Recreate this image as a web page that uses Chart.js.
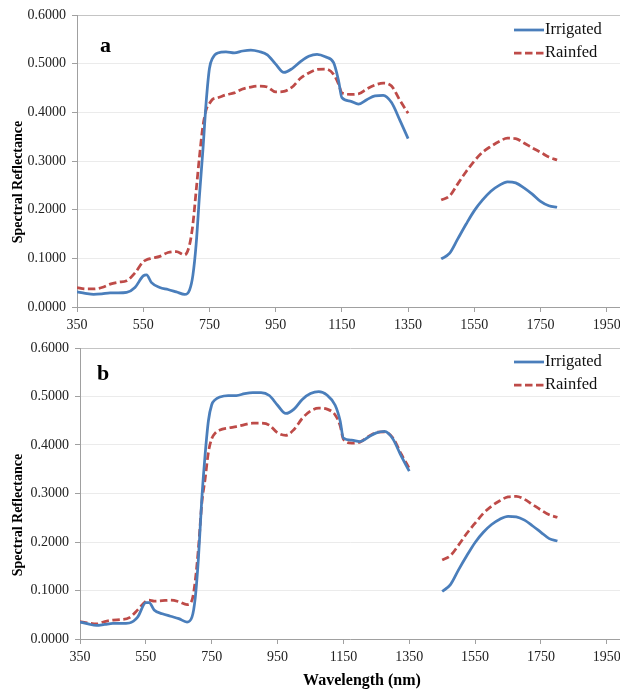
<!DOCTYPE html>
<html>
<head>
<meta charset="utf-8">
<script src="https://cdn.jsdelivr.net/npm/chart.js@4.4.1/dist/chart.umd.min.js"></script>
<style>
html,body{margin:0;padding:0;background:#fff;}
canvas{display:block;}
</style>
</head>
<body>
<canvas id="ca" width="620" height="340"></canvas>
<canvas id="cb" width="620" height="351"></canvas>
<script>
// ---- Data ----
const wavelengths = [350,375,400,425,450,475,500,525,550,560,575,600,625,650,675,690,700,710,720,730,740,750,760,775,800,825,850,875,900,925,950,975,1000,1025,1050,1075,1100,1125,1140,1150,1175,1200,1225,1250,1275,1300,1325,1350,1400,1450,1475,1500,1525,1550,1575,1600,1625,1650,1675,1700,1725,1750,1775,1800];

const irrigatedA = [0.031,0.028,0.026,0.027,0.029,0.029,0.030,0.040,0.064,0.066,0.050,0.040,0.036,0.031,0.026,0.035,0.065,0.130,0.230,0.320,0.420,0.490,0.512,0.522,0.524,0.522,0.526,0.528,0.525,0.518,0.499,0.482,0.490,0.504,0.515,0.519,0.514,0.502,0.465,0.430,0.423,0.417,0.426,0.434,0.435,0.420,0.384,0.346,null,0.099,0.110,0.140,0.170,0.198,0.220,0.238,0.250,0.257,0.255,0.245,0.232,0.217,0.208,0.205];
const rainfedA = [0.040,0.037,0.037,0.040,0.047,0.051,0.054,0.070,0.093,0.097,0.100,0.104,0.112,0.114,0.107,0.128,0.170,0.240,0.310,0.370,0.405,0.418,0.427,0.430,0.436,0.440,0.448,0.452,0.454,0.452,0.442,0.443,0.452,0.470,0.481,0.488,0.489,0.478,0.458,0.440,0.437,0.438,0.448,0.456,0.460,0.454,0.425,0.398,null,0.220,0.228,0.253,0.278,0.300,0.318,0.330,0.340,0.347,0.346,0.337,0.327,0.318,0.308,0.302];

const irrigatedB = [0.035,0.031,0.028,0.030,0.032,0.032,0.033,0.045,0.075,0.075,0.060,0.052,0.047,0.042,0.035,0.045,0.085,0.170,0.290,0.380,0.450,0.483,0.493,0.499,0.502,0.502,0.506,0.508,0.508,0.502,0.482,0.465,0.474,0.494,0.506,0.510,0.503,0.482,0.450,0.414,0.410,0.407,0.416,0.425,0.428,0.413,0.378,0.346,null,0.098,0.112,0.143,0.172,0.199,0.220,0.236,0.247,0.253,0.252,0.245,0.233,0.220,0.207,0.202];
const rainfedB = [0.036,0.033,0.031,0.036,0.039,0.040,0.044,0.060,0.078,0.080,0.078,0.079,0.080,0.077,0.071,0.080,0.120,0.190,0.280,0.330,0.385,0.413,0.424,0.431,0.435,0.438,0.442,0.445,0.445,0.441,0.425,0.420,0.432,0.455,0.470,0.476,0.474,0.462,0.440,0.412,0.404,0.406,0.417,0.426,0.427,0.415,0.382,0.352,null,0.163,0.172,0.194,0.218,0.239,0.259,0.274,0.285,0.293,0.294,0.288,0.277,0.266,0.256,0.251];

const xTicks = [350,550,750,950,1150,1350,1550,1750,1950];
const yTicks = [0,0.1,0.2,0.3,0.4,0.5,0.6];
const seriesNames = ['Irrigated','Rainfed'];
const panelLabels = ['a','b'];

// ---- Styles ----
const BLUE = '#4a7ebb';
const RED = '#be4b48';
const AXIS = '#a0a0a0';
const GRID = '#ebebeb';
const SERIF = '"Liberation Serif","Times New Roman",serif';

function pts(vals){ return wavelengths.map((w,i)=>({x:w,y:vals[i]})); }

function makeChart(id, irr, rain, opts){
  const overlay = {
    id:'overlay',
    afterDraw(chart){
      const ctx = chart.ctx;
      ctx.save();
      // legend
      const ds = chart.data.datasets;
      ds.forEach((d,i)=>{
        const y = opts.legendY[i];
        ctx.beginPath();
        ctx.strokeStyle = d.borderColor;
        ctx.lineWidth = d.borderWidth;
        ctx.setLineDash(d.borderDash || []);
        ctx.moveTo(514, y); ctx.lineTo(544, y);
        ctx.stroke();
        ctx.setLineDash([]);
        ctx.fillStyle = '#111';
        ctx.font = '16.5px ' + SERIF;
        ctx.textBaseline = 'middle';
        ctx.textAlign = 'left';
        ctx.fillText(d.label, 545, y);
      });
      // panel letter
      ctx.fillStyle = '#000';
      ctx.font = 'bold 22px ' + SERIF;
      ctx.textBaseline = 'alphabetic';
      ctx.fillText(opts.letter, opts.letterX, opts.letterY);
      // y title
      ctx.save();
      ctx.translate(18, opts.yTitleY);
      ctx.rotate(-Math.PI/2);
      ctx.font = 'bold 14px ' + SERIF;
      ctx.textAlign = 'center';
      ctx.textBaseline = 'middle';
      ctx.fillText('Spectral Reflectance', 0, 0);
      ctx.restore();
      if (opts.xTitle){
        ctx.font = 'bold 16px ' + SERIF;
        ctx.textAlign = 'center';
        ctx.textBaseline = 'middle';
        ctx.fillText(opts.xTitle, 362, opts.xTitleY);
      }
      ctx.restore();
    }
  };
  return new Chart(document.getElementById(id), {
    type:'line',
    data:{datasets:[
      {label:seriesNames[0], data:pts(irr), borderColor:BLUE, borderWidth:2.75, pointRadius:0, cubicInterpolationMode:'monotone', spanGaps:false, fill:false},
      {label:seriesNames[1], data:pts(rain), borderColor:RED, borderWidth:2.75, borderDash:[7.5,3.5], pointRadius:0, cubicInterpolationMode:'monotone', spanGaps:false, fill:false}
    ]},
    options:{
      responsive:false, animation:false, devicePixelRatio:1,
      layout:{padding:{top:opts.top,left:0,right:0,bottom:0}},
      plugins:{legend:{display:false}, tooltip:{enabled:false}},
      scales:{
        x:{type:'linear', min:350, max:1990,
          afterBuildTicks(s){ s.ticks = xTicks.map(v=>({value:v})); },
          afterFit(s){ s.height = opts.xHeight; s.paddingLeft=0; s.paddingRight=0; },
          ticks:{callback:v=>String(v), font:{family:SERIF,size:14}, color:'#222', padding:5, maxRotation:0, autoSkip:false},
          grid:{drawOnChartArea:false, drawTicks:true, tickLength:5, tickColor:AXIS},
          border:{color:AXIS, width:1}
        },
        y:{min:0, max:0.6,
          afterBuildTicks(s){ s.ticks = yTicks.map(v=>({value:v})); },
          afterFit(s){ s.width = opts.left; s.paddingTop=0; s.paddingBottom=0; },
          ticks:{callback:v=>Number(v).toFixed(4), font:{family:SERIF,size:14}, color:'#222', padding:6},
          grid:{color:c=> (c.tick && Math.abs(c.tick.value-0.6)<1e-6) ? '#c4c4c4' : GRID, tickLength:5, tickColor:AXIS, lineWidth:1},
          border:{color:AXIS, width:1}
        }
      }
    },
    plugins:[overlay]
  });
}

makeChart('ca', irrigatedA, rainfedA, {top:15, left:77, xHeight:33, legendY:[30,53], letter:panelLabels[0], letterX:100, letterY:52, yTitleY:182});
makeChart('cb', irrigatedB, rainfedB, {top:8, left:80, xHeight:52, legendY:[22,45], letter:panelLabels[1], letterX:97, letterY:40, yTitleY:175, xTitle:'Wavelength (nm)', xTitleY:341});
</script>
</body>
</html>
